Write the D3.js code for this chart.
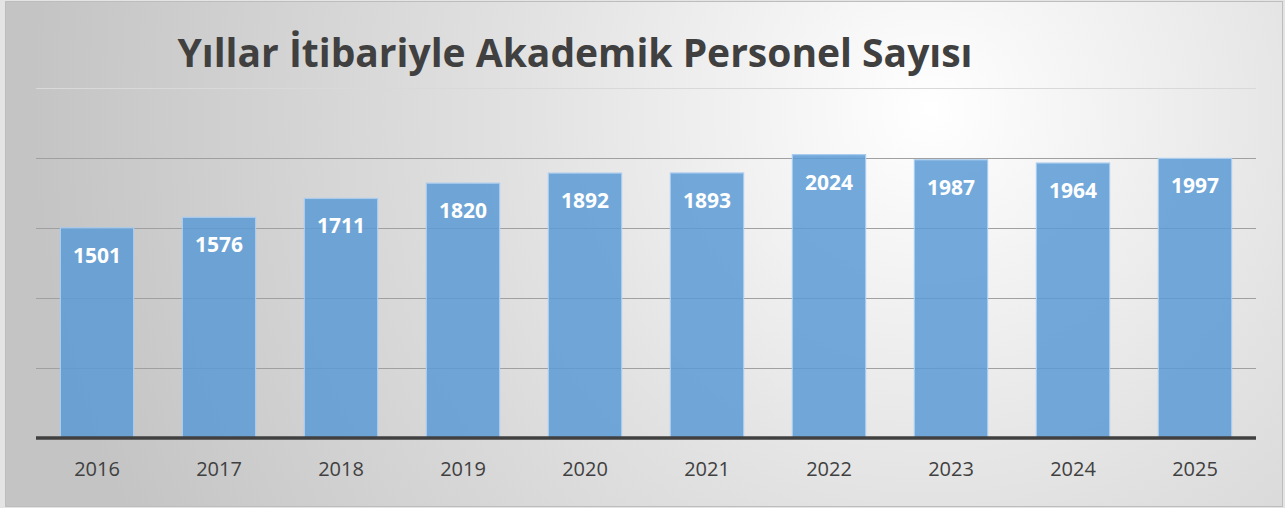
<!DOCTYPE html>
<html><head><meta charset="utf-8">
<script src="https://cdn.jsdelivr.net/npm/d3@7"></script>
<style>html,body{margin:0;padding:0;background:#e4e4e4;}svg{display:block;}</style>
</head><body>
<svg id="c" width="1285" height="508"></svg>
<script>
const years = ["2016","2017","2018","2019","2020","2021","2022","2023","2024","2025"];
const values = [1501,1576,1711,1820,1892,1893,2024,1987,1964,1997];
const yTicks = [0,500,1000,1500,2000,2500];
const title = "Yıllar İtibariyle Akademik Personel Sayısı";

const svg = d3.select("#c");
const defs = svg.append("defs");
const g = defs.append("radialGradient").attr("id","bg")
  .attr("gradientUnits","userSpaceOnUse").attr("cx",930).attr("cy",110).attr("r",900);
g.append("stop").attr("offset","0").attr("stop-color","#ffffff");
g.append("stop").attr("offset","0.45").attr("stop-color","#e2e2e2");
g.append("stop").attr("offset","1").attr("stop-color","#c4c4c4");

svg.append("rect").attr("x",5.5).attr("y",1.5).attr("width",1277).attr("height",505)
  .attr("fill","url(#bg)").attr("stroke","#bdbdbd").attr("stroke-width",1);

const x = d3.scaleBand().domain(years).range([36,1256]).paddingInner(0.4).paddingOuter(0.2);
const y = d3.scaleLinear().domain([0,2500]).range([438,88]);

// gridlines
svg.append("g").selectAll("line").data(yTicks.filter(d=>d>0)).join("line")
  .attr("x1",36).attr("x2",1256)
  .attr("y1",d=>Math.round(y(d))+0.5).attr("y2",d=>Math.round(y(d))+0.5)
  .attr("stroke",d=>d===2500?"#d9d9d9":"#a0a0a0").attr("stroke-width",1);

// bars
svg.append("g").selectAll("rect").data(values).join("rect")
  .attr("x",(d,i)=>x(years[i])).attr("width",x.bandwidth())
  .attr("y",d=>y(d)).attr("height",d=>y(0)-y(d))
  .attr("fill","#5b9bd5").attr("fill-opacity",0.85)
  .attr("stroke","#a8cbee").attr("stroke-width",1.2);

// baseline
svg.append("line").attr("x1",36).attr("x2",1256).attr("y1",y(0)).attr("y2",y(0))
  .attr("stroke","#404040").attr("stroke-width",3.5);

// data labels
svg.append("g").selectAll("text").data(values).join("text")
  .attr("x",(d,i)=>x(years[i])+x.bandwidth()/2).attr("y",d=>y(d)+35)
  .attr("text-anchor","middle").attr("fill","#ffffff")
  .attr("font-family","'Open Sans', sans-serif").attr("font-weight","bold").attr("font-size","21px")
  .text(d=>d);

// x axis labels
const xa = svg.append("g").attr("transform","translate(0,438)")
  .call(d3.axisBottom(x).tickSize(0).tickPadding(0));
xa.select(".domain").remove();
xa.selectAll("text").attr("y",38).attr("dy",0).attr("fill","#404040")
  .attr("font-family","'Open Sans', sans-serif").attr("font-size","20px");

// title
svg.append("text").attr("x",575).attr("y",67).attr("text-anchor","middle")
  .attr("fill","#404040").attr("font-family","'Open Sans', sans-serif")
  .attr("font-weight","bold").attr("font-size","39px").text(title);
</script>
</body></html>
